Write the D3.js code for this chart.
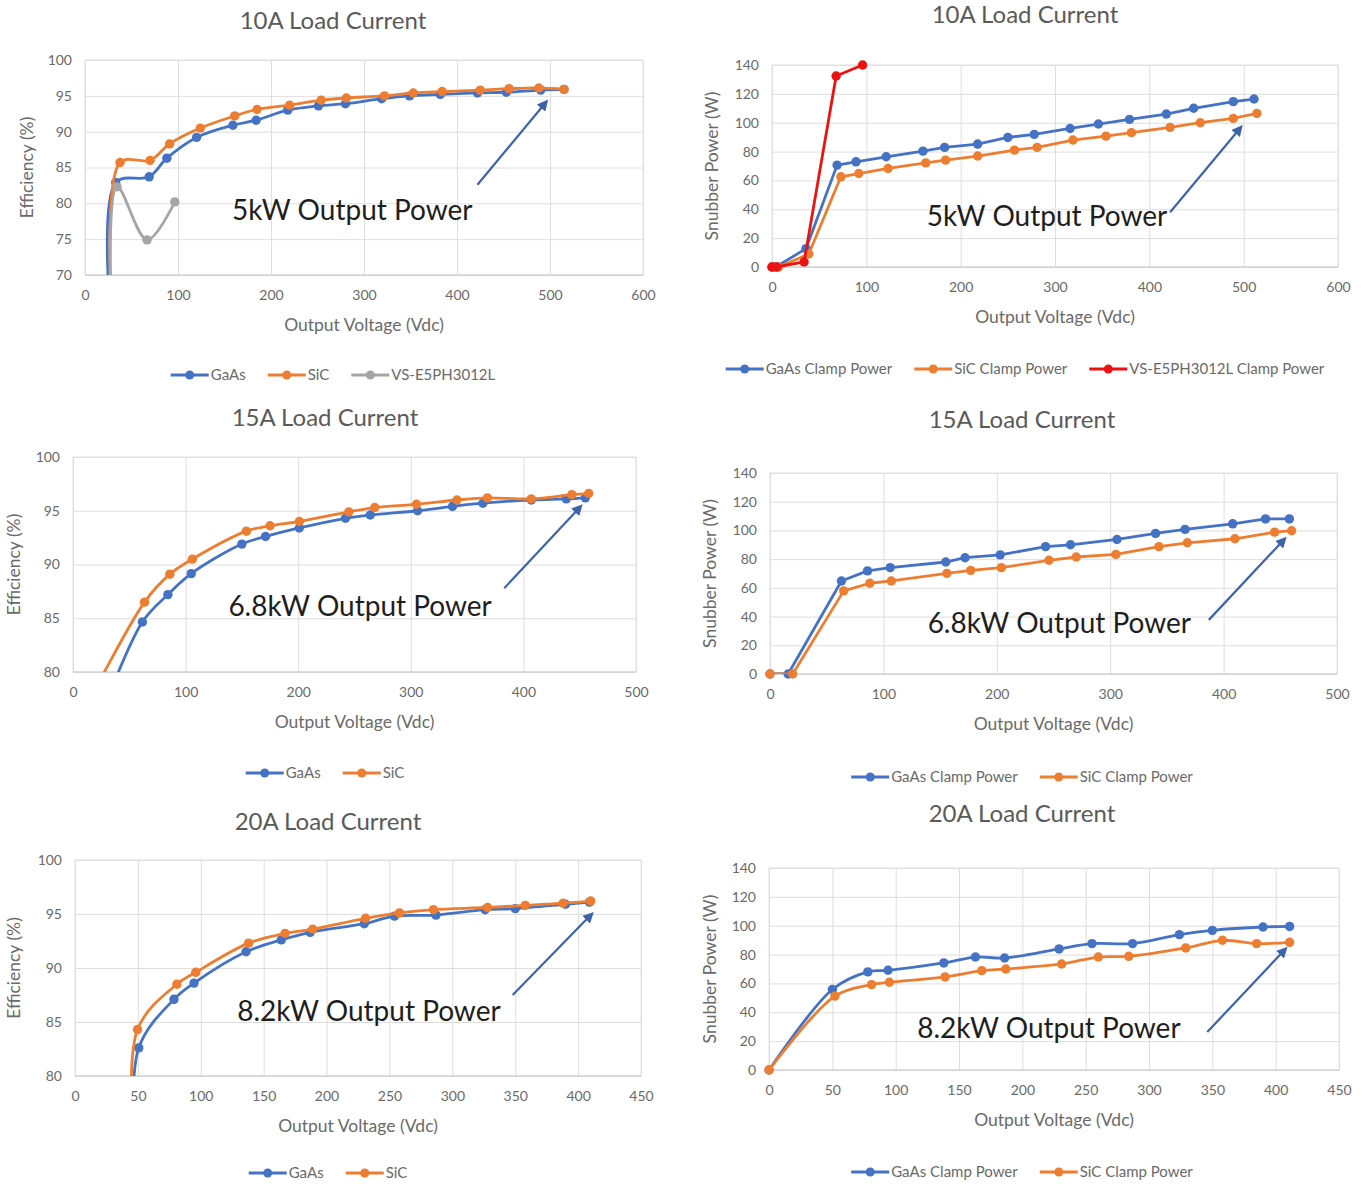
<!DOCTYPE html>
<html>
<head>
<meta charset="utf-8">
<script src="https://cdn.jsdelivr.net/npm/d3@7"></script>
<style>
  body { margin: 0; background: #fff; }
  text { font-family: Lato, "Open Sans", sans-serif; }
</style>
</head>
<body>
<div id="chart"></div>
<script>
// tick values
var xTicks600 = [0, 100, 200, 300, 400, 500, 600]
var xTicks500 = [0, 100, 200, 300, 400, 500]
var xTicks450 = [0, 50, 100, 150, 200, 250, 300, 350, 400, 450]
var effTicks70 = [70, 75, 80, 85, 90, 95, 100]
var effTicks80 = [80, 85, 90, 95, 100]
var powTicks = [0, 20, 40, 60, 80, 100, 120, 140]

// series names
var effNames = ['GaAs', 'SiC', 'VS-E5PH3012L']
var powNames = ['GaAs Clamp Power', 'SiC Clamp Power', 'VS-E5PH3012L Clamp Power']

// 10A load current, efficiency (%) vs output voltage (Vdc)
var eff10GaAs = [[30, 60], [33, 82.9], [69, 83.7], [88, 86.3], [120, 89.2], [159, 90.9], [184, 91.6], [218, 93.0], [251, 93.6], [280, 93.9], [319, 94.6], [349, 95.0], [382, 95.2], [422, 95.4], [453, 95.5], [490, 95.8], [515, 95.9]]
var eff10SiC = [[31, 60], [37.7, 85.7], [70, 86.0], [91, 88.3], [124, 90.5], [161, 92.2], [185, 93.1], [220, 93.7], [254, 94.4], [281, 94.7], [322, 95.0], [353, 95.4], [384, 95.6], [425, 95.8], [456, 96.0], [488, 96.1], [515, 95.9]]
var eff10VS = [[28, 60], [34.5, 82.3], [66.7, 74.9], [96.6, 80.2]]

// 10A load current, snubber power (W)
var pow10GaAs = [[0, 0], [4, 0], [36, 12.7], [69, 70.6], [89, 72.9], [121, 76.4], [160, 80.3], [183, 82.9], [218, 85.2], [250, 89.8], [278, 91.9], [316, 96], [346, 99.1], [379, 102.3], [418, 106], [447, 110], [489, 114.6], [511, 116.4]]
var pow10SiC = [[0, 0], [7, 0], [39, 9], [73, 62.5], [92, 64.8], [123, 68.3], [163, 72.2], [184, 74.1], [218, 76.9], [257, 81], [281, 82.9], [319, 88], [354, 90.7], [381, 93.1], [422, 96.8], [454, 100], [489, 103], [514, 106.5]]
var pow10VS = [[0, 0], [5, 0], [34, 3.5], [68, 132.4], [96, 140]]

// 15A load current
var eff15GaAs = [[25, 76], [61.6, 84.65], [84.3, 87.2], [105, 89.15], [150, 91.9], [171, 92.6], [201, 93.4], [242, 94.3], [264, 94.6], [306, 95.0], [337, 95.4], [364, 95.7], [407, 96.0], [438, 96.1], [455, 96.2]]
var eff15SiC = [[8, 76], [63.5, 86.5], [86, 89.1], [106, 90.5], [154, 93.1], [175, 93.6], [201, 94.0], [245, 94.9], [268, 95.3], [305, 95.6], [341, 96.0], [368, 96.2], [407, 96.1], [443, 96.5], [458, 96.6]]
var pow15GaAs = [[0, 0], [16, 0], [63, 64.8], [86, 71.8], [106, 74.1], [155, 78], [172, 81], [203, 83], [243, 88.7], [265, 90], [306, 93.7], [340, 97.9], [366, 100.7], [408, 104.6], [437, 108], [458, 108]]
var pow15SiC = [[0, 0], [20, 0], [65, 57.9], [88, 63.2], [107, 64.8], [156, 70.1], [177, 72.2], [204, 74.1], [246, 79.2], [270, 81.5], [305, 83.3], [343, 88.7], [368, 91.4], [410, 94.2], [445, 98.8], [460, 99.8]]

// 20A load current
var eff20GaAs = [[48, 70], [50.7, 82.6], [78.7, 87.1], [94.6, 88.6], [136, 91.5], [164, 92.6], [187, 93.3], [230, 94.1], [254, 94.8], [287, 94.9], [326, 95.4], [350, 95.5], [390, 95.9], [409, 96.1]]
var eff20SiC = [[48.5, 70], [49.7, 84.3], [81, 88.5], [96, 89.6], [138, 92.3], [167, 93.2], [189, 93.6], [231, 94.6], [258, 95.1], [285, 95.4], [328, 95.6], [358, 95.8], [388, 96.0], [410, 96.2]]
var pow20GaAs = [[0, 0], [50, 55.8], [78, 68], [94, 69.1], [138, 74.2], [163, 78.3], [186, 77.6], [229, 83.9], [255, 87.6], [287, 87.6], [324, 93.8], [350, 96.8], [390, 99.1], [411, 99.5]]
var pow20SiC = [[0, 0], [52, 51.2], [81, 59.2], [95, 60.8], [139, 64.5], [168, 68.9], [187, 70], [231, 73.5], [260, 78.3], [284, 78.8], [329, 84.6], [358, 89.9], [385, 87.6], [411, 88.5]]

// annotations: [text anchor point, arrow start, arrow end] in data units
var note10Eff = [[158, 77.7], [422, 82.6], [495, 94.0]]
var note10Pow = [[164, 28.4], [422, 38], [496, 96]]
var note15Eff = [[138, 85.2], [383, 87.8], [450, 95.3]]
var note15Pow = [[139, 28.6], [387, 37.7], [453, 93.4]]
var note20Eff = [[129, 85.1], [348, 87.5], [410, 94.9]]
var note20Pow = [[117, 22.2], [346, 26.3], [407, 83.2]]

var colors = ['#4472c4', '#ed7d31', '#a5a5a5']
var vsRed = '#ee1111'

var svg = d3.select('#chart').append('svg')
  .attr('width', 1369)
  .attr('height', 1184)

var defs = svg.append('defs')
defs.append('marker')
  .attr('id', 'arrowhead')
  .attr('viewBox', '0 0 10 10')
  .attr('refX', 6).attr('refY', 5)
  .attr('markerWidth', 5).attr('markerHeight', 5)
  .attr('orient', 'auto')
  .append('path')
  .attr('d', 'M0,0L10,5L0,10z')
  .attr('fill', '#3d63ad')

function panel(cfg, idx){
  var g = svg.append('g')
  var x = d3.scaleLinear().domain([cfg.xTicks[0], cfg.xTicks[cfg.xTicks.length - 1]]).range([cfg.left, cfg.right])
  var y = d3.scaleLinear().domain([cfg.yTicks[0], cfg.yTicks[cfg.yTicks.length - 1]]).range([cfg.bottom, cfg.top])
  var h = cfg.bottom - cfg.top
  var w = cfg.right - cfg.left

  // grid
  g.append('g')
    .attr('transform', 'translate(0,' + cfg.bottom + ')')
    .call(d3.axisBottom(x).tickValues(cfg.xTicks).tickSize(-h).tickFormat(''))
    .call(function(s){ s.select('.domain').remove() })
    .selectAll('line').attr('stroke', '#dedede')
  g.append('g')
    .attr('transform', 'translate(' + cfg.left + ',0)')
    .call(d3.axisLeft(y).tickValues(cfg.yTicks).tickSize(-w).tickFormat(''))
    .call(function(s){ s.select('.domain').remove() })
    .selectAll('line').attr('stroke', '#dedede')
  g.append('rect')
    .attr('x', cfg.left).attr('y', cfg.top)
    .attr('width', w).attr('height', h)
    .attr('fill', 'none').attr('stroke', '#e2e2e2')
  g.append('line')
    .attr('x1', cfg.left).attr('x2', cfg.right)
    .attr('y1', cfg.bottom).attr('y2', cfg.bottom)
    .attr('stroke', '#c8c8c8')

  // tick labels
  var xa = g.append('g')
    .attr('transform', 'translate(0,' + cfg.bottom + ')')
    .call(d3.axisBottom(x).tickValues(cfg.xTicks).tickSize(0).tickPadding(15))
  var ya = g.append('g')
    .attr('transform', 'translate(' + cfg.left + ',0)')
    .call(d3.axisLeft(y).tickValues(cfg.yTicks).tickSize(0).tickPadding(13))
  ;[xa, ya].forEach(function(a){
    a.select('.domain').remove()
    a.selectAll('text').attr('fill', '#6a6a6a').style('font-size', '14px').style('font-family', 'Lato, sans-serif')
  })

  // titles
  g.append('text')
    .attr('x', cfg.titleX).attr('y', cfg.titleY)
    .attr('text-anchor', 'middle')
    .attr('fill', '#5a5a5a').style('font-size', '24px')
    .text(cfg.title)
  g.append('text')
    .attr('x', (cfg.left + cfg.right) / 2).attr('y', cfg.bottom + 56)
    .attr('text-anchor', 'middle')
    .attr('fill', '#6a6a6a').style('font-size', '17.5px')
    .text('Output Voltage (Vdc)')
  g.append('text')
    .attr('transform', 'translate(' + cfg.yTitleX + ',' + (cfg.top + cfg.bottom) / 2 + ') rotate(-90)')
    .attr('text-anchor', 'middle')
    .attr('fill', '#6a6a6a').style('font-size', '17.5px')
    .text(cfg.yTitle)

  // series
  var clipId = 'clip' + idx
  defs.append('clipPath').attr('id', clipId)
    .append('rect')
    .attr('x', cfg.left).attr('y', cfg.top - 10)
    .attr('width', w + 10).attr('height', h + 10)

  var line = d3.line()
    .curve(cfg.curve)
    .x(function(d){ return x(d[0]) })
    .y(function(d){ return y(d[1]) })

  cfg.series.forEach(function(s){
    g.append('path')
      .datum(s.data)
      .attr('clip-path', 'url(#' + clipId + ')')
      .attr('fill', 'none')
      .attr('stroke', s.color)
      .attr('stroke-width', 2.8)
      .attr('stroke-linejoin', 'round')
      .attr('d', line)
    g.selectAll(null)
      .data(s.data.filter(function(d){ return d[1] >= y.domain()[0] }))
      .enter().append('circle')
      .attr('cx', function(d){ return x(d[0]) })
      .attr('cy', function(d){ return y(d[1]) })
      .attr('r', 4.7)
      .attr('fill', s.color)
  })

  // annotation
  var n = cfg.note
  g.append('text')
    .attr('x', x(n[0][0])).attr('y', y(n[0][1]))
    .attr('fill', '#1e1e1e').style('font-size', '28px')
    .text(cfg.noteText)
  g.append('line')
    .attr('x1', x(n[1][0])).attr('y1', y(n[1][1]))
    .attr('x2', x(n[2][0])).attr('y2', y(n[2][1]))
    .attr('stroke', '#3d63ad').attr('stroke-width', 2.2)
    .attr('marker-end', 'url(#arrowhead)')

  // legend
  var lg = g.append('g')
  var pos = 0
  cfg.series.forEach(function(s){
    var item = lg.append('g').attr('transform', 'translate(' + pos + ',0)')
    item.append('line').attr('x1', 0).attr('x2', 38).attr('stroke', s.color).attr('stroke-width', 2.8)
    item.append('circle').attr('cx', 19).attr('r', 4.5).attr('fill', s.color)
    var t = item.append('text').attr('x', 40).attr('dy', '0.35em')
      .attr('fill', '#6a6a6a').style('font-size', '15px')
      .text(s.name)
    pos += 40 + t.node().getComputedTextLength() + 22
  })
  pos -= 22
  lg.attr('transform', 'translate(' + (cfg.titleX - pos / 2) + ',' + cfg.legendY + ')')
}

var smooth = d3.curveCatmullRom.alpha(0.5)
var straight = d3.curveLinear

var panels = [
  {title: '10A Load Current', titleX: 333, titleY: 29, left: 85, right: 643, top: 60, bottom: 275,
   xTicks: xTicks600, yTicks: effTicks70, yTitle: 'Efficiency (%)', yTitleX: 33, legendY: 375,
   note: note10Eff, noteText: '5kW Output Power', curve: smooth,
   series: [{name: effNames[0], data: eff10GaAs, color: colors[0]},
            {name: effNames[1], data: eff10SiC, color: colors[1]},
            {name: effNames[2], data: eff10VS, color: colors[2]}]},
  {title: '10A Load Current', titleX: 1025, titleY: 23, left: 772, right: 1338, top: 65, bottom: 267,
   xTicks: xTicks600, yTicks: powTicks, yTitle: 'Snubber Power (W)', yTitleX: 718, legendY: 369,
   note: note10Pow, noteText: '5kW Output Power', curve: straight,
   series: [{name: powNames[0], data: pow10GaAs, color: colors[0]},
            {name: powNames[1], data: pow10SiC, color: colors[1]},
            {name: powNames[2], data: pow10VS, color: vsRed}]},
  {title: '15A Load Current', titleX: 325, titleY: 426, left: 73, right: 636, top: 457, bottom: 672,
   xTicks: xTicks500, yTicks: effTicks80, yTitle: 'Efficiency (%)', yTitleX: 20, legendY: 773,
   note: note15Eff, noteText: '6.8kW Output Power', curve: smooth,
   series: [{name: effNames[0], data: eff15GaAs, color: colors[0]},
            {name: effNames[1], data: eff15SiC, color: colors[1]}]},
  {title: '15A Load Current', titleX: 1022, titleY: 428, left: 770, right: 1337, top: 473, bottom: 674,
   xTicks: xTicks500, yTicks: powTicks, yTitle: 'Snubber Power (W)', yTitleX: 716, legendY: 777,
   note: note15Pow, noteText: '6.8kW Output Power', curve: straight,
   series: [{name: powNames[0], data: pow15GaAs, color: colors[0]},
            {name: powNames[1], data: pow15SiC, color: colors[1]}]},
  {title: '20A Load Current', titleX: 328, titleY: 830, left: 75, right: 641, top: 860, bottom: 1076,
   xTicks: xTicks450, yTicks: effTicks80, yTitle: 'Efficiency (%)', yTitleX: 20, legendY: 1173,
   note: note20Eff, noteText: '8.2kW Output Power', curve: smooth,
   series: [{name: effNames[0], data: eff20GaAs, color: colors[0]},
            {name: effNames[1], data: eff20SiC, color: colors[1]}]},
  {title: '20A Load Current', titleX: 1022, titleY: 822, left: 769, right: 1339, top: 868, bottom: 1070,
   xTicks: xTicks450, yTicks: powTicks, yTitle: 'Snubber Power (W)', yTitleX: 716, legendY: 1172,
   note: note20Pow, noteText: '8.2kW Output Power', curve: smooth,
   series: [{name: powNames[0], data: pow20GaAs, color: colors[0]},
            {name: powNames[1], data: pow20SiC, color: colors[1]}]}
]

panels.forEach(panel)
</script>
</body>
</html>
